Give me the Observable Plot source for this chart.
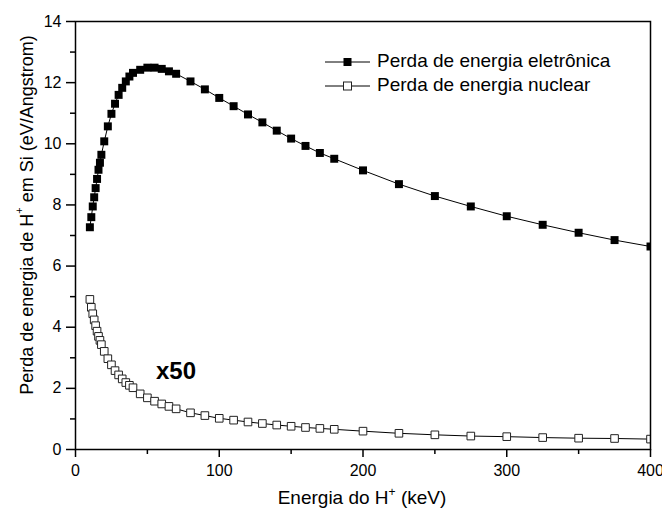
<!DOCTYPE html>
<html><head><meta charset="utf-8">
<script src="https://cdn.jsdelivr.net/npm/d3@7"></script>
<script src="https://cdn.jsdelivr.net/npm/@observablehq/plot@0.6"></script>
<style>
body{margin:0;background:#fff;}
#chart{position:relative;width:662px;height:514px;}
</style></head><body><div id="chart"></div>
<script>
const energies = [10,11,12,13,14,15,16,17,18,20,22.5,25,27.5,30,32.5,35,37.5,40,45,50,55,60,65,70,80,90,100,110,120,130,140,150,160,170,180,200,225,250,275,300,325,350,375,400];
const electronic = [7.27,7.60,7.95,8.25,8.55,8.85,9.15,9.38,9.64,10.08,10.57,10.98,11.31,11.60,11.83,12.04,12.20,12.32,12.42,12.49,12.49,12.45,12.37,12.29,12.04,11.78,11.50,11.23,10.96,10.70,10.43,10.17,9.93,9.70,9.51,9.13,8.68,8.29,7.95,7.63,7.35,7.09,6.85,6.64];
const nuclear = [4.91,4.65,4.44,4.24,4.05,3.87,3.70,3.57,3.43,3.21,2.97,2.77,2.58,2.44,2.31,2.19,2.10,2.02,1.82,1.69,1.58,1.49,1.41,1.33,1.20,1.11,1.02,0.96,0.90,0.85,0.80,0.76,0.72,0.69,0.66,0.60,0.53,0.48,0.44,0.42,0.39,0.37,0.36,0.34];
const seriesNames = ["Perda de energia eletrônica", "Perda de energia nuclear"];
const xTicks = [0,100,200,300,400];
const xMinorTicks = [50,150,250,350];
const yTicks = [0,2,4,6,8,10,12,14];
const yMinorTicks = [1,3,5,7,9,11,13];
const annotations = [{x: 56, y: 2.55, text: "x50"}];

const FONT = "'Liberation Sans', Arial, Helvetica, sans-serif";
const elec = energies.map((e, i) => ({x: e, y: electronic[i]}));
const nuc = energies.map((e, i) => ({x: e, y: nuclear[i]}));

const plot = Plot.plot({
  width: 662, height: 514,
  marginLeft: 75, marginRight: 12, marginTop: 21, marginBottom: 65,
  style: {fontFamily: FONT, fontSize: "16px", color: "#000", background: "#fff", overflow: "visible"},
  x: {domain: [0, 400]},
  y: {domain: [0, 14]},
  marks: [
    Plot.line(elec, {x: "x", y: "y", stroke: "#000", strokeWidth: 1, clip: true}),
    Plot.line(nuc, {x: "x", y: "y", stroke: "#000", strokeWidth: 1, clip: true}),
    Plot.dot(elec, {x: "x", y: "y", symbol: "square", r: 4.5, fill: "#000", stroke: "none", clip: true}),
    Plot.dot(nuc, {x: "x", y: "y", symbol: "square", r: 4.3, fill: "#fff", stroke: "#222", strokeWidth: 1, clip: true}),
    Plot.text(annotations, {x: "x", y: "y", text: "text", textAnchor: "start", fontWeight: "bold", fontSize: 24, fill: "#000"}),
    Plot.axisX({ticks: xTicks, tickSize: 8, tickPadding: 7, label: null, strokeWidth: 1.5, fontSize: 16}),
    Plot.axisX({ticks: xMinorTicks, tickSize: 5, tickFormat: () => "", label: null, strokeWidth: 1.5}),
    Plot.axisY({ticks: yTicks, tickSize: 9, tickPadding: 5, label: null, strokeWidth: 1.5, fontSize: 16}),
    Plot.axisY({ticks: yMinorTicks, tickSize: 5, tickFormat: () => "", label: null, strokeWidth: 1.5}),
    Plot.frame({stroke: "#000", strokeWidth: 1.5})
  ]
});
document.getElementById("chart").appendChild(plot);

const svg = d3.select(plot);
// Y axis title
const yt = svg.append("text")
  .attr("transform", "translate(28,215) rotate(-90)")
  .attr("text-anchor", "middle")
  .attr("dominant-baseline", "middle")
  .attr("font-family", FONT).attr("font-size", 18).attr("fill", "#000");
yt.append("tspan").text("Perda de energia de H");
yt.append("tspan").attr("dy", -8).attr("font-size", 11).text("+");
yt.append("tspan").attr("dy", 8).text(" em Si (eV/Angstrom)");

// X axis title
const xt = svg.append("text")
  .attr("x", 362).attr("y", 504)
  .attr("text-anchor", "middle")
  .attr("font-family", FONT).attr("font-size", 19).attr("fill", "#000");
xt.append("tspan").text("Energia do H");
xt.append("tspan").attr("dy", -8).attr("font-size", 12).text("+");
xt.append("tspan").attr("dy", 8).text(" (keV)");

// Legend
const legend = svg.append("g").attr("text-anchor", "start");
seriesNames.forEach((name, i) => {
  const y = 62 + i * 24;
  const g = legend.append("g");
  g.append("line").attr("x1", 325).attr("x2", 370).attr("y1", y).attr("y2", y).attr("stroke", "#000").attr("stroke-width", 1);
  g.append("rect").attr("x", 343.5).attr("y", y - 4).attr("width", 8).attr("height", 8)
    .attr("fill", i === 0 ? "#000" : "#fff").attr("stroke", i === 0 ? "none" : "#222").attr("stroke-width", 1);
  g.append("text").attr("x", 377).attr("y", y).attr("dominant-baseline", "middle").attr("text-anchor", "start")
    .attr("font-family", FONT).attr("font-size", 19).attr("fill", "#000").text(name);
});
</script></body></html>
